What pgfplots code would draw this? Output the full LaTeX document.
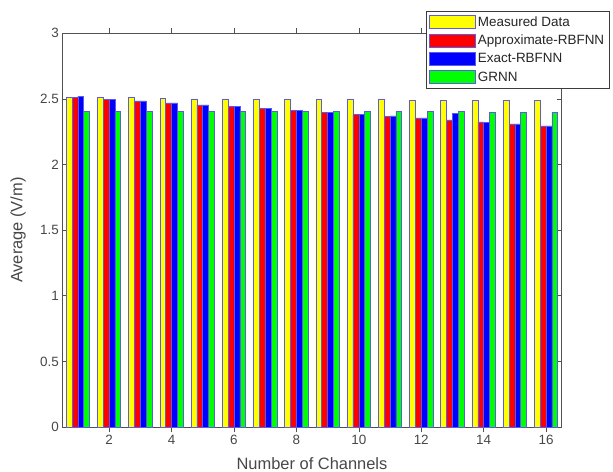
\documentclass[border=0pt]{standalone}
\usepackage{pgfplots}
\pgfplotsset{compat=1.18}
\usepackage{fontspec}
\setmainfont{Liberation Sans}
\definecolor{txt}{RGB}{38,38,38}
\definecolor{edge}{RGB}{90,90,235}
\definecolor{myy}{RGB}{255,255,0}
\definecolor{myr}{RGB}{255,0,0}
\definecolor{myb}{RGB}{0,0,255}
\definecolor{myg}{RGB}{0,255,0}
\pgfplotstableread{
x M A E G
1 2.510 2.510 2.520 2.405
2 2.510 2.495 2.495 2.405
3 2.510 2.485 2.485 2.405
4 2.505 2.470 2.470 2.405
5 2.500 2.455 2.455 2.405
6 2.500 2.440 2.440 2.405
7 2.500 2.425 2.425 2.405
8 2.500 2.410 2.410 2.405
9 2.495 2.395 2.400 2.405
10 2.495 2.380 2.385 2.405
11 2.495 2.365 2.370 2.405
12 2.490 2.355 2.355 2.405
13 2.490 2.340 2.390 2.405
14 2.490 2.325 2.320 2.397
15 2.490 2.310 2.310 2.397
16 2.490 2.295 2.295 2.397
}\data
\begin{document}
\begin{tikzpicture}
\begin{axis}[
  at={(0,0)}, anchor=south west,
  scale only axis, width=499.4bp, height=393.7bp,
  xmin=0.5, xmax=16.5, ymin=0, ymax=3,
  xtick={2,4,...,16}, ytick={0,0.5,...,3},
  tick align=inside, major tick length=5bp,
  xtick pos=both, ytick pos=both,
  axis line style={draw=txt!80, line width=0.6bp},
  tick style={draw=txt!80, line width=0.6bp},
  ticklabel style={font=\fontsize{13.5}{15}\selectfont, text=txt!85},
  /pgf/number format/assume math mode=true,
  xlabel={Number of Channels}, ylabel={Average (V/m)},
  label style={font=\fontsize{16.5}{18}\selectfont, text=txt!85},
  xlabel style={at={(axis description cs:0.5,-0.0925)}, anchor=center},
  ylabel style={at={(axis description cs:-0.0887,0.5)}, anchor=center, rotate=0},
  ybar=0pt, bar width=0.187,
  every axis plot/.append style={draw=edge, line width=0.6bp},
  legend style={at={(axis description cs:0.7283,1.057)}, anchor=north west,
    draw=txt!90, line width=0.6bp, fill=white,
    font=\fontsize{13.5}{15}\selectfont, text=txt,
    row sep=3.3bp, inner xsep=3bp, inner ysep=3.5bp,
    legend cell align=left},
  legend image code/.code={\draw[#1] (0bp,-6.5bp) rectangle (46bp,6.5bp);},
]
\addplot[fill=myy, bar shift=-0.2805] table[x=x,y=M]{\data};
\addplot[fill=myr, bar shift=-0.0935] table[x=x,y=A]{\data};
\addplot[fill=myb, bar shift=0.0935] table[x=x,y=E]{\data};
\addplot[fill=myg, bar shift=0.2805] table[x=x,y=G]{\data};
\legend{Measured Data,Approximate-RBFNN,Exact-RBFNN,GRNN}
\end{axis}
\pgfresetboundingbox
\path (-62.3bp,-45bp) rectangle (550.7bp,427bp);
\end{tikzpicture}
\end{document}
